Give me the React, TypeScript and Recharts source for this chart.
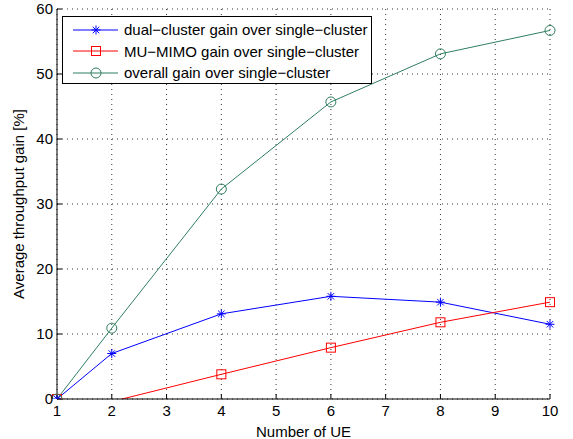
import React from "react";
import {
  LineChart,
  Line,
  XAxis,
  YAxis,
  CartesianGrid,
} from "recharts";

const ueCounts = [1, 2, 4, 6, 8, 10];
const dualGain = [0, 7, 13.1, 15.8, 14.9, 11.5];
const muMimoGain = [0, -0.4, 3.8, 7.9, 11.8, 14.9];
const overallGain = [0, 10.9, 32.3, 45.7, 53.1, 56.7];

const xTicks = [1, 2, 3, 4, 5, 6, 7, 8, 9, 10];
const yTicks = [0, 10, 20, 30, 40, 50, 60];

const seriesNames = [
  "dual\u2212cluster gain over single\u2212cluster",
  "MU\u2212MIMO gain over single\u2212cluster",
  "overall gain over single\u2212cluster",
];

const BLUE = "#0000ff";
const RED = "#ff0000";
const GREEN = "#2f7f5f";

const data = ueCounts.map((ue, i) => ({
  ue,
  dual: dualGain[i],
  mumimo: muMimoGain[i],
  overall: overallGain[i],
}));

const font = "'Liberation Sans', Arial, sans-serif";

// matlab hides markers whose centre falls outside the axes
const outside = (v: any) => typeof v === "number" && v < 0;

function Star({ cx, cy, color, value }: any) {
  if (cx == null || cy == null || outside(value)) return null;
  const r = 4.5;
  const d = r * 0.72;
  return (
    <g stroke={color} strokeWidth={1}>
      <line x1={cx - r} y1={cy} x2={cx + r} y2={cy} />
      <line x1={cx} y1={cy - r} x2={cx} y2={cy + r} />
      <line x1={cx - d} y1={cy - d} x2={cx + d} y2={cy + d} />
      <line x1={cx - d} y1={cy + d} x2={cx + d} y2={cy - d} />
    </g>
  );
}

function Square({ cx, cy, color, value }: any) {
  if (cx == null || cy == null || outside(value)) return null;
  return (
    <rect x={cx - 4.5} y={cy - 4.5} width={9} height={9} fill="none" stroke={color} strokeWidth={1} />
  );
}

function Circle({ cx, cy, color, value }: any) {
  if (cx == null || cy == null || outside(value)) return null;
  return <circle cx={cx} cy={cy} r={5} fill="none" stroke={color} strokeWidth={1} />;
}

const markers = [Star, Square, Circle];
const colors = [BLUE, RED, GREEN];

function LegendBox() {
  return (
    <div
      style={{
        position: "absolute",
        left: 62,
        top: 16,
        width: 310,
        height: 68,
        boxSizing: "border-box",
        border: "1px solid #000",
        background: "#fff",
        paddingTop: 2,
        fontFamily: font,
        fontSize: 15,
      }}
    >
      {seriesNames.map((name, i) => {
        const M = markers[i];
        return (
          <div key={name} style={{ display: "flex", alignItems: "center", height: 21.5 }}>
            <svg width={51} height={14} style={{ marginLeft: 10, flexShrink: 0 }}>
              <line x1={0} y1={7} x2={45} y2={7} stroke={colors[i]} strokeWidth={1} />
              <M cx={23} cy={7} color={colors[i]} />
            </svg>
            <span style={{ color: "#000", whiteSpace: "nowrap" }}>{name}</span>
          </div>
        );
      })}
    </div>
  );
}

export default function App() {
  const tickStyle = { fill: "#000", fontSize: 15, fontFamily: font };
  return (
    <div style={{ position: "fixed", left: 0, top: 0, width: 573, height: 439, background: "#fff" }}>
      <LineChart
        width={573}
        height={439}
        data={data}
        margin={{ top: 9, right: 23, bottom: 0, left: 0 }}
      >
        <CartesianGrid stroke="#333" strokeDasharray="1 4" />
        <XAxis
          dataKey="ue"
          type="number"
          domain={[1, 10]}
          ticks={xTicks}
          interval={0}
          height={40}
          stroke="#000"
          tick={tickStyle}
          tickSize={-5}
          tickMargin={11}
          label={{ value: "Number of UE", position: "insideBottom", offset: 2, fill: "#000", fontSize: 15, fontFamily: font }}
        />
        <XAxis
          xAxisId="top"
          orientation="top"
          dataKey="ue"
          type="number"
          domain={[1, 10]}
          ticks={xTicks}
          height={0}
          stroke="#000"
          tick={false}
          tickSize={-5}
        />
        <YAxis
          type="number"
          domain={[0, 60]}
          ticks={yTicks}
          allowDataOverflow
          width={57}
          stroke="#000"
          tick={tickStyle}
          tickSize={-5}
          tickMargin={9}
          label={{ value: "Average throughput gain [%]", angle: -90, position: "center", dx: -10, fill: "#000", fontSize: 15, fontFamily: font }}
        />
        <YAxis
          yAxisId="right"
          orientation="right"
          type="number"
          domain={[0, 60]}
          ticks={yTicks}
          width={0}
          stroke="#000"
          tick={false}
          tickSize={-5}
        />
        <Line
          dataKey="dual"
          stroke={BLUE}
          strokeWidth={1}
          dot={(p: any) => <Star key={"d" + p.index} {...p} color={BLUE} />}
          isAnimationActive={false}
        />
        <Line
          dataKey="mumimo"
          stroke={RED}
          strokeWidth={1}
          dot={(p: any) => <Square key={"m" + p.index} {...p} color={RED} />}
          isAnimationActive={false}
        />
        <Line
          dataKey="overall"
          stroke={GREEN}
          strokeWidth={1}
          dot={(p: any) => <Circle key={"o" + p.index} {...p} color={GREEN} />}
          isAnimationActive={false}
        />
      </LineChart>
      <LegendBox />
    </div>
  );
}
